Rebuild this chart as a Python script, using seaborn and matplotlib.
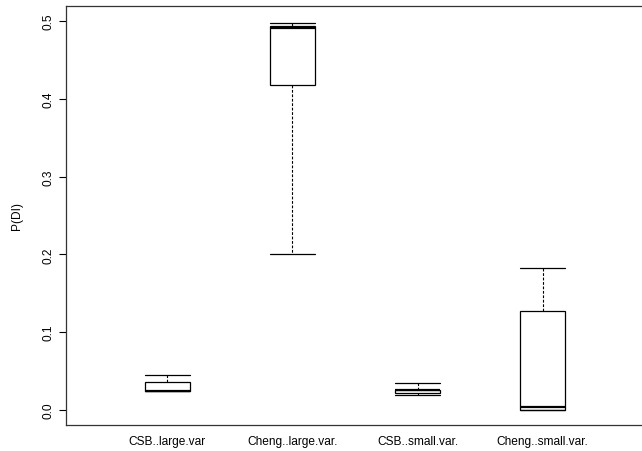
import matplotlib
matplotlib.use("Agg")
import matplotlib.pyplot as plt
import numpy as np
import pandas as pd
import seaborn as sns

# five-number summaries (min, Q1, median, Q3, max)
groups = ["CSB..large.var", "Cheng..large.var.", "CSB..small.var.", "Cheng..small.var."]
csb_large = [0.0240, 0.0245, 0.0250, 0.0364, 0.0454]
cheng_large = [0.2008, 0.4180, 0.4910, 0.4930, 0.4980]
csb_small = [0.0193, 0.0220, 0.0255, 0.0262, 0.0347]
cheng_small = [0.0000, 0.0005, 0.0040, 0.1270, 0.1827]

df = pd.DataFrame({
    "group": np.repeat(groups, 5),
    "pdi": csb_large + cheng_large + csb_small + cheng_small,
})

sns.set_theme(style="white")
plt.rcParams["font.family"] = ["Liberation Sans", "DejaVu Sans"]
plt.rcParams["text.color"] = "black"
plt.rcParams["xtick.color"] = "black"
plt.rcParams["ytick.color"] = "black"
plt.rcParams["axes.labelcolor"] = "black"

fig = plt.figure(figsize=(6.42, 4.52), dpi=100)
ax = fig.add_axes([66 / 642, 26 / 452, 578 / 642, 419 / 452])

sns.boxplot(
    data=df, x="group", y="pdi", order=groups,
    whis=(0, 100), width=0.36, color="white", linecolor="black",
    linewidth=0.9, saturation=1,
    whiskerprops={"linestyle": (0, (2.5, 1.5)), "linewidth": 0.8},
    capprops={"linewidth": 0.9},
    medianprops={"linewidth": 1.6, "color": "black"},
    capwidths=0.36,
    ax=ax,
)

ax.set_xlim(-0.81, 3.81)
ax.set_ylim(-0.0193, 0.5193)
ax.set_yticks([0.0, 0.1, 0.2, 0.3, 0.4, 0.5])
ax.set_yticklabels(["0.0", "0.1", "0.2", "0.3", "0.4", "0.5"], rotation=90, va="center", fontsize=8.6)
ax.tick_params(axis="y", length=5, width=0.8, direction="out", color="black", pad=3, left=True)
ax.tick_params(axis="x", length=0, pad=7, labelsize=8.6)
ax.set_xlabel("")
ax.set_ylabel("P(DI)", fontsize=8.6, labelpad=14)
for s in ax.spines.values():
    s.set_color("#333333")
    s.set_linewidth(0.9)

fig.savefig("out.png", dpi=100)
